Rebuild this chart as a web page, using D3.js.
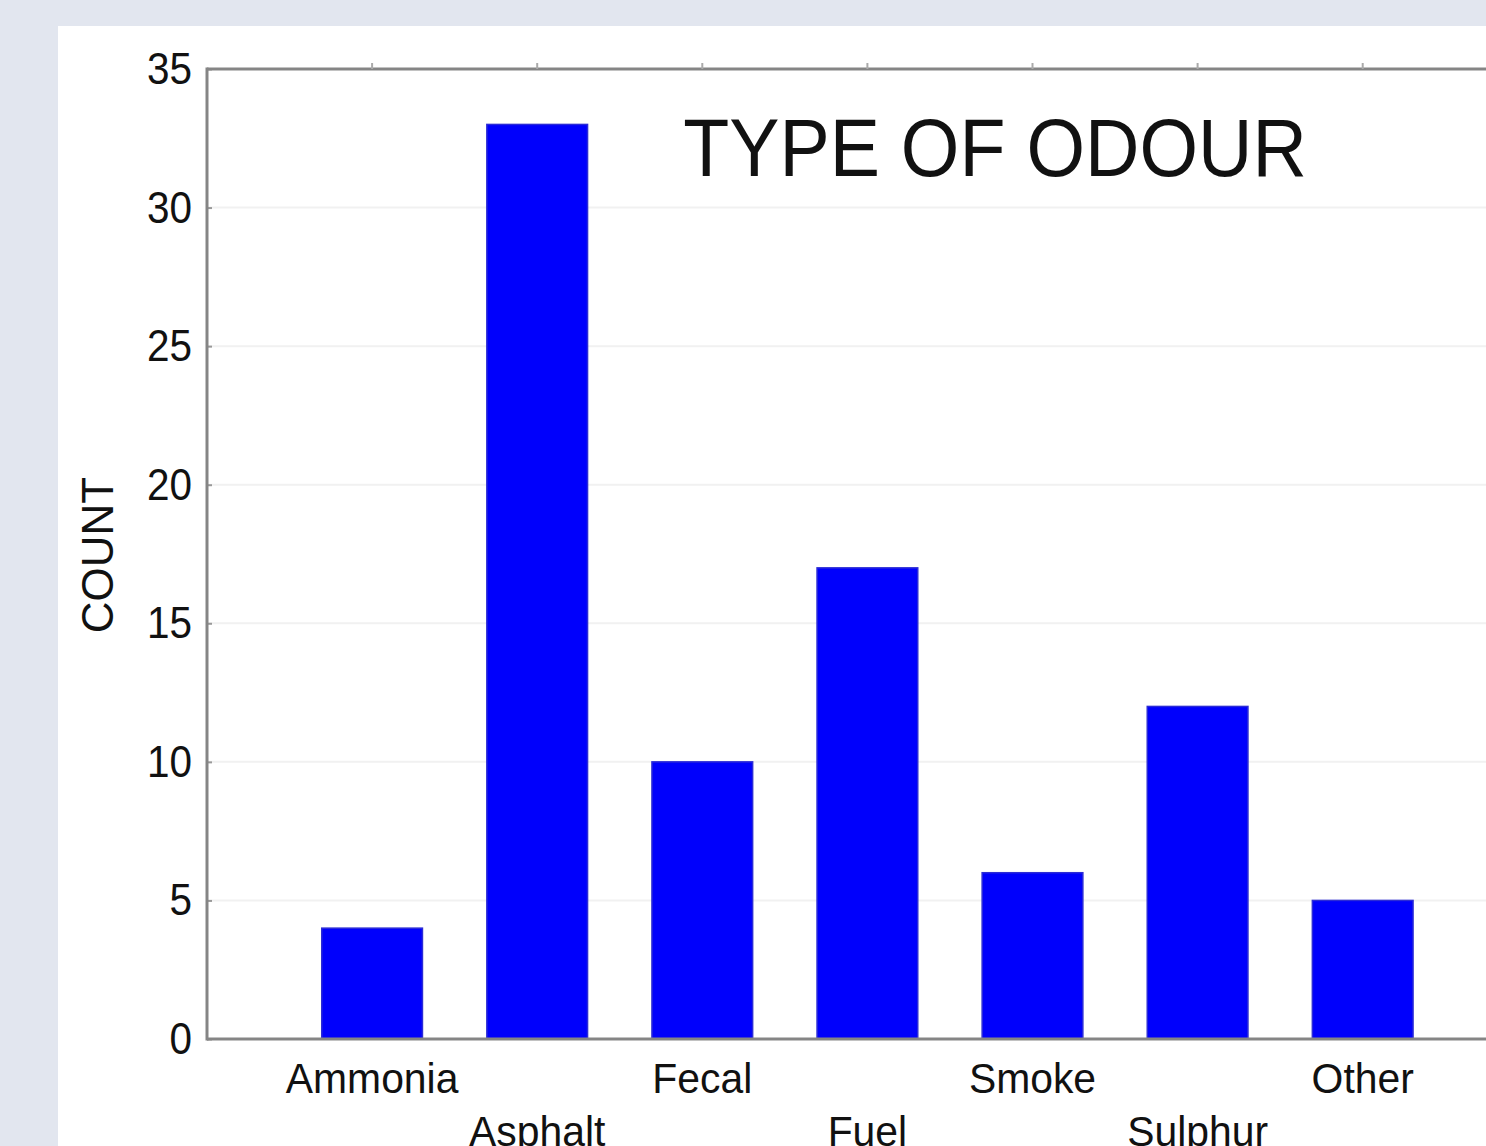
<!DOCTYPE html>
<html>
<head>
<meta charset="utf-8">
<script src="https://cdn.jsdelivr.net/npm/d3@7"></script>
<style>
  html, body { margin: 0; padding: 0; background: #e2e6ef; }
  svg { display: block; }
  text { font-family: "Liberation Sans", Arial, sans-serif; fill: #111; }
</style>
</head>
<body>
<svg id="chart" width="1486" height="1146"></svg>
<script>
const categories = ["Ammonia", "Asphalt", "Fecal", "Fuel", "Smoke", "Sulphur", "Other"];
const counts = [4, 33, 10, 17, 6, 12, 5];
const yTicks = [0, 5, 10, 15, 20, 25, 30, 35];
const titleText = "TYPE OF ODOUR";
const yLabel = "COUNT";

const W = 1486, H = 1146;
const svg = d3.select("#chart");

// outer background + white panel
svg.append("rect").attr("x", 0).attr("y", 0).attr("width", W).attr("height", H).attr("fill", "#e2e6ef");
svg.append("rect").attr("x", 58).attr("y", 26).attr("width", W - 58).attr("height", H - 26).attr("fill", "#ffffff");

const plotLeft = 207, plotTop = 69, plotBottom = 1039;
const step = 165.1;

const x = d3.scaleBand()
  .domain(categories)
  .range([plotLeft + step * 0.5, plotLeft + step * 7.5])
  .paddingInner(0.39)
  .paddingOuter(0.195);

const y = d3.scaleLinear().domain([0, 35]).range([plotBottom, plotTop]);

// faint gridlines
svg.append("g").selectAll("line").data(yTicks.filter(d => d > 0 && d < 35)).join("line")
  .attr("x1", plotLeft).attr("x2", W)
  .attr("y1", d => y(d)).attr("y2", d => y(d))
  .attr("stroke", "#f1f1f1").attr("stroke-width", 2);

// bars
svg.append("g").selectAll("rect").data(categories).join("rect")
  .attr("x", d => x(d))
  .attr("width", x.bandwidth())
  .attr("y", (d, i) => y(counts[i]))
  .attr("height", (d, i) => plotBottom - y(counts[i]))
  .attr("fill", "#0000fc")
  .attr("stroke", "#2b2bd6")
  .attr("stroke-width", 1.5);

// axes
const axisColor = "#858585";
const yAxis = d3.axisRight(y).tickValues(yTicks).tickSize(5).tickFormat("");
const gy = svg.append("g").attr("transform", `translate(${plotLeft},0)`).call(yAxis);
gy.select(".domain").remove();
gy.selectAll(".tick line").attr("stroke", "#999").attr("stroke-width", 2);

svg.append("line").attr("x1", plotLeft).attr("x2", plotLeft).attr("y1", plotTop - 1.5).attr("y2", plotBottom + 1.5)
  .attr("stroke", axisColor).attr("stroke-width", 3);
svg.append("line").attr("x1", plotLeft).attr("x2", W).attr("y1", plotBottom).attr("y2", plotBottom)
  .attr("stroke", axisColor).attr("stroke-width", 3);
svg.append("line").attr("x1", plotLeft).attr("x2", W).attr("y1", plotTop).attr("y2", plotTop)
  .attr("stroke", axisColor).attr("stroke-width", 3);

// top ticks at category centres
const topAxis = d3.axisTop(x).tickSize(6).tickFormat("");
const gt = svg.append("g").attr("transform", `translate(0,${plotTop})`).call(topAxis);
gt.select(".domain").remove();
gt.selectAll(".tick line").attr("stroke", "#aaa").attr("stroke-width", 2);

// helper to compress text horizontally like the reference
function squeeze(sel, k) {
  sel.each(function () {
    const len = this.getComputedTextLength();
    d3.select(this).attr("textLength", len * k).attr("lengthAdjust", "spacingAndGlyphs");
  });
}

// y tick labels
svg.append("g").selectAll("text").data(yTicks).join("text")
  .attr("x", 192)
  .attr("y", d => y(d) + 15)
  .attr("text-anchor", "end")
  .attr("font-size", 44)
  .text(d => d)
  .call(squeeze, 0.92);

// x labels, staggered
svg.append("g").selectAll("text").data(categories).join("text")
  .attr("x", d => x(d) + x.bandwidth() / 2)
  .attr("y", (d, i) => i % 2 === 0 ? 1093 : 1146)
  .attr("text-anchor", "middle")
  .attr("font-size", 43)
  .text(d => d)
  .call(squeeze, 0.95);

// y axis title
svg.append("text")
  .attr("transform", "translate(113,555) rotate(-90)")
  .attr("text-anchor", "middle")
  .attr("font-size", 44)
  .text(yLabel);

// chart title
svg.append("text")
  .attr("x", 995)
  .attr("y", 176)
  .attr("text-anchor", "middle")
  .attr("font-size", 81)
  .text(titleText)
  .call(squeeze, 0.93);
</script>
</body>
</html>
